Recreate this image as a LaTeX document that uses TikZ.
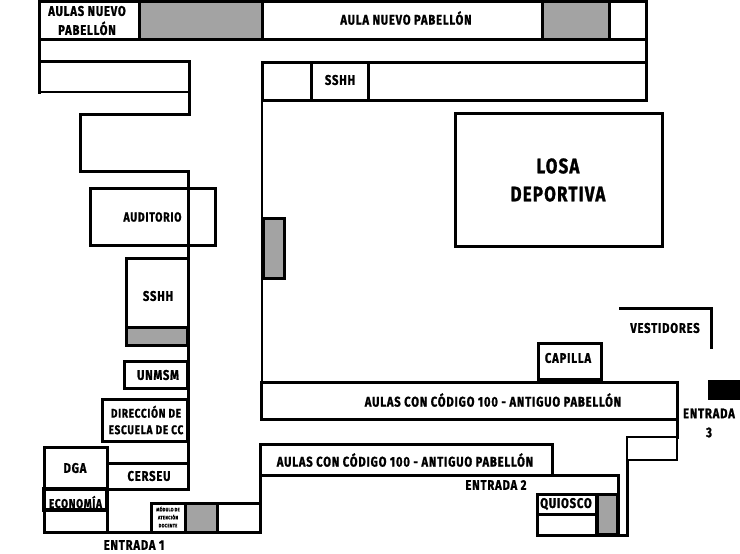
\documentclass[tikz,border=0pt]{standalone}
\usepackage{fontspec}
\setmainfont{Fira Sans}[UprightFont=* Bold,BoldFont=* Bold,LetterSpace=6,FakeStretch=0.8,FakeBold=1.2]
\tikzset{
  wall/.style={draw=black,line width=3pt,line join=miter,line cap=rect},
  thinwall/.style={draw=black,line width=1.6pt,line cap=rect},
  grayblock/.style={wall,fill=gray!72},
  lbl/.style={inner sep=0pt,align=center,text=black,font=\fontsize{14}{19}\selectfont},
  lblbig/.style={lbl,font=\fontsize{21}{28}\selectfont},
  lbltiny/.style={lbl,font=\fontsize{5}{8}\selectfont},
}
\begin{document}
\begin{tikzpicture}[x=1pt,y=-1pt]
\useasboundingbox (0,0) rectangle (740,554);
% top pavilion
\draw[wall] (39,1) rectangle (646,39);
\draw[grayblock] (139,1) rectangle (262,39);
\draw[grayblock] (542,1) rectangle (609,39);
\draw[wall] (39,39) -- (39,92);
\draw[wall] (646,39) -- (646,100) -- (262,100) -- (262,62) -- (646,62);
\draw[wall] (311,62) -- (311,100);
\draw[wall] (368,62) -- (368,100);
% left corridor
\draw[wall] (39,61) -- (189,61) -- (189,114) -- (80,114) -- (80,171) -- (188,171) -- (188,489);
\draw[thinwall] (39,92) -- (189,92);
\draw[wall] (90,188) rectangle (215,245);
\draw[wall] (126,345) -- (126,258) -- (188,258);
\draw[grayblock] (126,327) rectangle (187,345);
\draw[wall] (124,361) rectangle (187,388);
\draw[wall] (102,399) rectangle (187,441);
\draw[wall] (44,447) rectangle (107,532);
\draw[wall] (107,463) -- (187,463);
\draw[wall] (107,489) -- (187,489);
\draw[wall,line width=4pt] (44,489) rectangle (107,510);
\draw[wall] (107,532) -- (260,532) -- (260,475);
\draw[wall] (151,503) rectangle (185,532);
\draw[grayblock] (185,503) rectangle (217,532);
\draw[wall] (217,503) -- (260,503);
% centre
\draw[thinwall,line width=2pt] (262,100) -- (262,382);
\draw[grayblock] (263,218) rectangle (284,278);
\draw[wall] (455,113) rectangle (662,246);
\draw[wall] (261,382) rectangle (677,419);
\draw[wall] (677,419) -- (677,437);
\draw[wall] (538,343) rectangle (601,379);
\draw[wall] (260,444) rectangle (552,475);
\draw[wall] (552,475) -- (618,475) -- (618,534);
\draw[wall] (537,494) rectangle (596,535);
\draw[wall] (537,514) -- (596,514);
\draw[grayblock] (597,494) rectangle (617,534);
\draw[wall] (596,535) -- (627,535) -- (627,461);
\draw[thinwall] (627,437) rectangle (677,460);
% vestidores and entrance 3
\draw[wall] (620,308) -- (711,308) -- (711,347);
\fill[black] (708,380) rectangle (740,400);
% labels
\node[lbl] (aulasnuevo) at (87,20.5) {AULAS NUEVO\\PABELLÓN};
\node[lbl] (aulanuevo) at (406,18) {AULA NUEVO PABELLÓN};
\node[lbl] (sshhtop) at (340,80) {SSHH};
\node[lblbig] (losa) at (558,180) {LOSA\\DEPORTIVA};
\node[lbl,font=\fontsize{13}{19}\selectfont] (auditorio) at (152.5,217) {AUDITORIO};
\node[lbl] (sshhleft) at (158,296) {SSHH};
\node[lbl] (unmsm) at (158,375) {UNMSM};
\node[lbl,font=\fontsize{12.5}{16.5}\selectfont] (direccion) at (146,420) {DIRECCIÓN DE\\ESCUELA DE CC};
\node[lbl] (dga) at (75,468) {DGA};
\node[lbl] (cerseu) at (149,476) {CERSEU};
\node[lbl,font=\fontsize{12.5}{19}\selectfont] (economia) at (75.5,502) {ECONOMÍA};
\node[lbltiny] (modulo) at (168,517) {MÓDULO DE\\ATENCIÓN\\DOCENTE};
\node[lbl] (entrada1) at (134,545) {ENTRADA 1};
\node[lbl] (aulas1) at (493,400) {AULAS CON CÓDIGO 100 - ANTIGUO PABELLÓN};
\node[lbl] (aulas2) at (405,460) {AULAS CON CÓDIGO 100 - ANTIGUO PABELLÓN};
\node[lbl] (entrada2) at (496,485) {ENTRADA 2};
\node[lbl] (quiosco) at (566,504) {QUIOSCO};
\node[lbl] (capilla) at (568,358) {CAPILLA};
\node[lbl] (vestidores) at (665,328) {VESTIDORES};
\node[lbl] (entrada3) at (709,423) {ENTRADA\\3};
\end{tikzpicture}
\end{document}
